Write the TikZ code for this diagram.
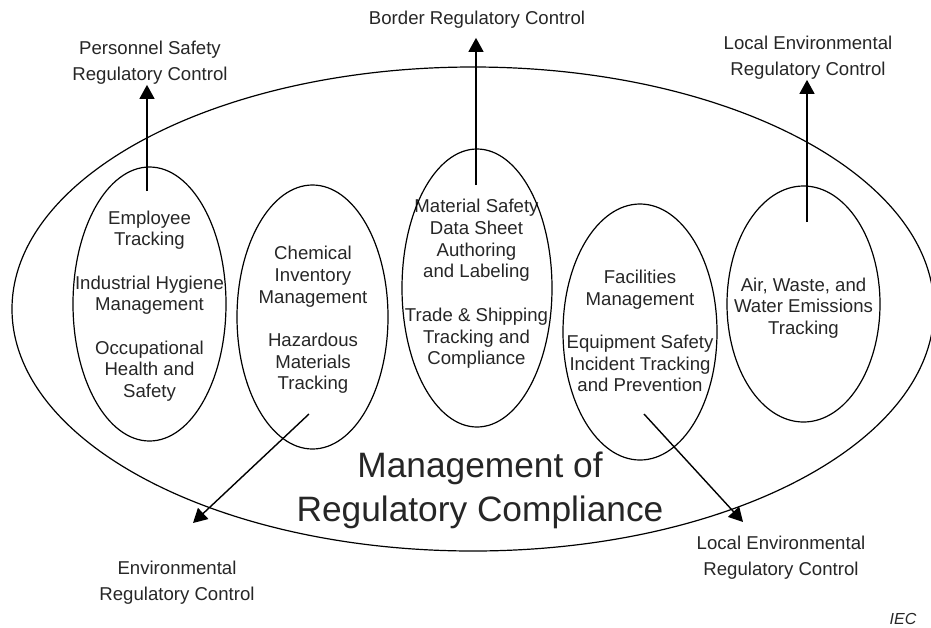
\documentclass[tikz,border=0pt]{standalone}
\usepackage{fontspec}
\setmainfont{Liberation Sans}
\usetikzlibrary{arrows.meta}

\begin{document}
\begin{tikzpicture}[x=1pt,y=-1pt]
    % Define styles for bubbles, labels and arrows
    \tikzstyle{bubbletext} = [align=center, inner sep=0pt, text=black!85, font=\fontsize{18.6}{21.7}\selectfont]
    \tikzstyle{labeltext} = [align=center, inner sep=0pt, text=black!85, font=\fontsize{18.6}{26}\selectfont]
    \tikzstyle{outline} = [line width=1.2pt]
    \tikzstyle{arrow} = [line width=1.4pt,-{Triangle[length=14pt,width=15pt]}]

    \useasboundingbox (0,0) rectangle (931,627);

    % Outer ellipse and title
    \draw [outline] (473,309) ellipse [x radius=461, y radius=242];
    \node (title) [align=center, inner sep=0pt, text=black!85, font=\fontsize{35.3}{44}\selectfont] at (480,490) {Management of\\Regulatory Compliance};

    % Bubbles
    \node (emp) [bubbletext] at (149.5,306) {Employee\\Tracking\\[21.7pt]Industrial Hygiene\\Management\\[21.7pt]Occupational\\Health and\\Safety};
    \draw [outline] (149.5,304) ellipse [x radius=76.5, y radius=137];

    \node (chem) [bubbletext] at (313,320) {Chemical\\Inventory\\Management\\[21.7pt]Hazardous\\Materials\\Tracking};
    \draw [outline] (312.5,317) ellipse [x radius=75.5, y radius=132];

    \node (msds) [bubbletext] at (476.5,284) {Material Safety\\Data Sheet\\Authoring\\and Labeling\\[21.7pt]Trade \& Shipping\\Tracking and\\Compliance};
    \draw [outline] (477,288) ellipse [x radius=75, y radius=139];

    \node (fac) [bubbletext] at (640,331) {Facilities\\Management\\[21.7pt]Equipment Safety\\Incident Tracking\\and Prevention};
    \draw [outline] (640,332) ellipse [x radius=77, y radius=128];

    \node (air) [bubbletext] at (803.5,308) {Air, Waste, and\\Water Emissions\\Tracking};
    \draw [outline] (803.5,304) ellipse [x radius=76.5, y radius=118];

    % Outside labels
    \node (pers) [labeltext] at (150,63) {Personnel Safety\\Regulatory Control};
    \node (border) [labeltext] at (477,20) {Border Regulatory Control};
    \node (localtop) [labeltext] at (808,58) {Local Environmental\\Regulatory Control};
    \node (env) [labeltext] at (177,583) {Environmental\\Regulatory Control};
    \node (localbot) [labeltext] at (781,558) {Local Environmental\\Regulatory Control};
    \node (iec) [inner sep=0pt, anchor=base, text=black!85, font=\fontsize{16}{19}\selectfont\itshape] at (903,624) {IEC};

    % Arrow ends
    \coordinate (emptail) at (147,191);
    \coordinate (msdstail) at (476,185);
    \coordinate (airtail) at (807,222);
    \coordinate (chemtail) at (309,414);
    \coordinate (chemtip) at (193,523);
    \coordinate (factail) at (644,414);
    \coordinate (factip) at (743,522);

    % Arrows
    \draw [arrow] (emptail) -- (emptail |- pers.south);
    \draw [arrow, shorten >=9pt] (msdstail) -- (msdstail |- border.south);
    \draw [arrow] (airtail) -- (airtail |- localtop.south);
    \draw [arrow] (chemtail) -- (chemtip);
    \draw [arrow] (factail) -- (factip);

\end{tikzpicture}
\end{document}
